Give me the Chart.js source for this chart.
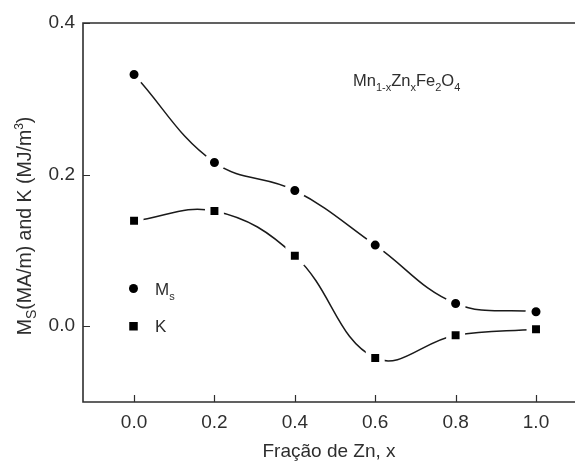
<!DOCTYPE html>
<html>
<head>
<meta charset="utf-8">
<script src="https://cdn.jsdelivr.net/npm/chart.js@4.4.0/dist/chart.umd.min.js"></script>
<style>
  html, body { margin: 0; padding: 0; background: #fff; }
  #wrap { width: 575px; height: 463px; }
</style>
</head>
<body>
<div id="wrap"><canvas id="chart" width="575" height="463"></canvas></div>
<script>
const fractions = [0.0, 0.2, 0.4, 0.6, 0.8, 1.0];
const msValues = [0.332, 0.216, 0.179, 0.107, 0.030, 0.019];
const kValues = [0.139, 0.152, 0.093, -0.042, -0.012, -0.004];
const xTicks = [0.0, 0.2, 0.4, 0.6, 0.8, 1.0];
const yTicks = [0.0, 0.2, 0.4];
const seriesNames = ['M', 'K'];

const FONT = "'Liberation Sans', Arial, sans-serif";
const INK = '#2e2e2e';

function toPoints(values) {
    return fractions.map((x, i) => ({ x: x, y: values[i] }));
}

// text made of pieces with their own size and baseline shift (sub/superscripts)
function richWidth(ctx, parts) {
    let w = 0;
    parts.forEach(p => {
        ctx.font = p.size + 'px ' + FONT;
        w += ctx.measureText(p.text).width;
    });
    return w;
}

function drawRich(ctx, parts, x, y) {
    let cx = x;
    parts.forEach(p => {
        ctx.font = p.size + 'px ' + FONT;
        ctx.fillText(p.text, cx, y + (p.shift || 0));
        cx += ctx.measureText(p.text).width;
    });
}

const framePlugin = {
    id: 'frame',
    beforeDatasetsDraw(chart) {
        const { ctx, chartArea: a, scales } = chart;
        ctx.save();
        ctx.strokeStyle = INK;
        ctx.lineWidth = 1.6;
        ctx.beginPath();
        ctx.moveTo(a.right + 2, a.top);
        ctx.lineTo(a.left, a.top);
        ctx.lineTo(a.left, a.bottom);
        ctx.lineTo(a.right + 2, a.bottom);
        ctx.stroke();

        // short tick marks pointing into the plot
        ctx.lineWidth = 1.2;
        ctx.beginPath();
        xTicks.forEach(v => {
            const px = Math.round(scales.x.getPixelForValue(v)) + 0.5;
            ctx.moveTo(px, a.bottom);
            ctx.lineTo(px, a.bottom - 7);
        });
        yTicks.forEach(v => {
            const py = Math.round(scales.y.getPixelForValue(v)) + 0.5;
            ctx.moveTo(a.left, py);
            ctx.lineTo(a.left + 7, py);
        });
        ctx.stroke();
        ctx.restore();
    },
    afterDraw(chart) {
        const { ctx } = chart;
        ctx.save();
        ctx.fillStyle = INK;
        ctx.textBaseline = 'alphabetic';
        ctx.textAlign = 'left';

        // compound formula
        drawRich(ctx, [
            { text: 'Mn', size: 16.5 },
            { text: '1-x', size: 11, shift: 5 },
            { text: 'Zn', size: 16.5 },
            { text: 'x', size: 11, shift: 5 },
            { text: 'Fe', size: 16.5 },
            { text: '2', size: 11, shift: 5 },
            { text: 'O', size: 16.5 },
            { text: '4', size: 11, shift: 5 }
        ], 353, 86);

        // legend
        ctx.fillStyle = '#000';
        ctx.beginPath();
        ctx.arc(133.5, 288.5, 4.5, 0, Math.PI * 2);
        ctx.fill();
        ctx.fillRect(129.25, 322, 8.5, 8.5);
        ctx.fillStyle = INK;
        drawRich(ctx, [
            { text: seriesNames[0], size: 17 },
            { text: 's', size: 11, shift: 5 }
        ], 155, 295);
        drawRich(ctx, [{ text: seriesNames[1], size: 17 }], 155, 332);

        // y axis title, rotated
        const titleParts = [
            { text: 'M', size: 19.5 },
            { text: 'S', size: 14, shift: 5 },
            { text: '(MA/m) and K (MJ/m', size: 19.5 },
            { text: '3', size: 12, shift: -8 },
            { text: ')', size: 19.5 }
        ];
        const tw = richWidth(ctx, titleParts);
        ctx.translate(31, 226);
        ctx.rotate(-Math.PI / 2);
        drawRich(ctx, titleParts, -tw / 2, 0);
        ctx.restore();
    }
};

const ctx = document.getElementById('chart').getContext('2d');
const chart = new Chart(ctx, {
    type: 'line',
    data: {
        datasets: [{
            label: 'Ms',
            data: toPoints(msValues),
            borderColor: '#1a1a1a',
            borderWidth: 1.5,
            tension: 0.4,
            pointStyle: 'circle',
            pointRadius: 7.5,
            pointBackgroundColor: '#000',
            pointBorderColor: '#fff',
            pointBorderWidth: 6
        }, {
            label: 'K',
            data: toPoints(kValues),
            borderColor: '#1a1a1a',
            borderWidth: 1.5,
            tension: 0.4,
            pointStyle: 'rect',
            pointRadius: 9.5,
            pointBackgroundColor: '#000',
            pointBorderColor: '#fff',
            pointBorderWidth: 5.5
        }]
    },
    options: {
        responsive: false,
        animation: false,
        devicePixelRatio: 1,
        layout: { autoPadding: false, padding: { top: 23, left: 0, right: 0, bottom: 0 } },
        plugins: {
            legend: { display: false },
            tooltip: { enabled: false }
        },
        scales: {
            x: {
                type: 'linear',
                min: -0.127,
                max: 1.097,
                grid: { display: false, drawTicks: false },
                border: { display: false },
                afterBuildTicks: scale => { scale.ticks = xTicks.map(v => ({ value: v })); },
                afterFit: scale => {
                    scale.height = 61;
                    scale.paddingLeft = 0;
                    scale.paddingRight = 0;
                },
                ticks: {
                    padding: 9,
                    color: INK,
                    font: { family: FONT, size: 19 },
                    callback: v => v.toFixed(1)
                },
                title: { display: true, text: 'Fração de Zn, x', color: INK, font: { family: FONT, size: 19 }, padding: 0 }
            },
            y: {
                min: -0.1,
                max: 0.4,
                grid: { display: false, drawTicks: false },
                border: { display: false },
                afterBuildTicks: scale => { scale.ticks = yTicks.map(v => ({ value: v })); },
                afterFit: scale => {
                    scale.width = 83;
                    scale.paddingTop = 0;
                    scale.paddingBottom = 0;
                },
                ticks: {
                    padding: 8,
                    color: INK,
                    font: { family: FONT, size: 19 },
                    callback: v => v.toFixed(1)
                }
            }
        }
    },
    plugins: [framePlugin]
});
</script>
</body>
</html>
